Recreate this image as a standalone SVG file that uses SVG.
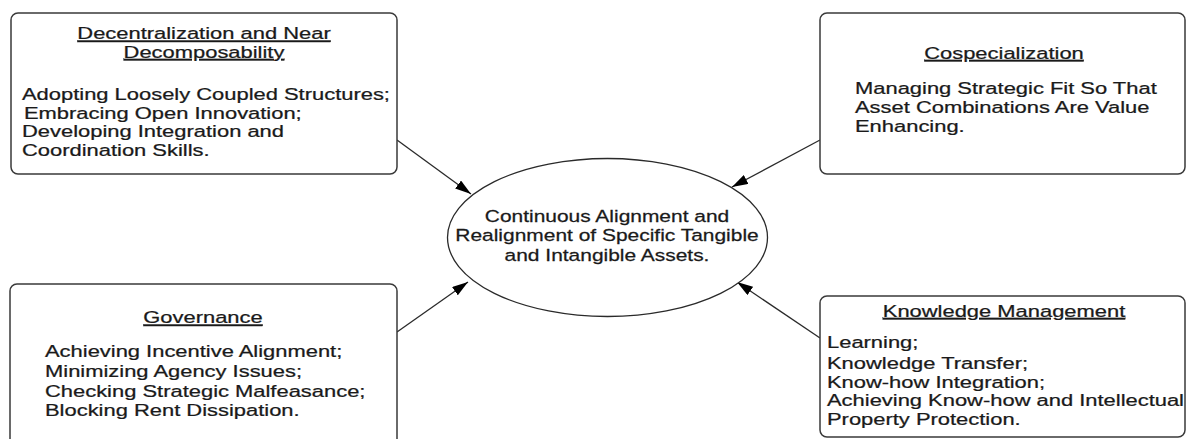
<svg xmlns="http://www.w3.org/2000/svg" width="1187" height="439" viewBox="0 0 1187 439">
  <style>
    .box { fill: #ffffff; stroke: #3a3a3a; stroke-width: 1.5; }
    .ell { fill: #ffffff; stroke: #2a2a2a; stroke-width: 1.3; }
    .t { font-family: "Liberation Sans", Arial, Helvetica, sans-serif; font-size: 17px; fill: #1a1a1a; stroke: #1a1a1a; stroke-width: 0.25; }
    .e { font-size: 16.5px; }
    .title { text-anchor: middle; text-decoration: underline; }
    .mid { text-anchor: middle; }
    .conn { stroke: #2a2a2a; stroke-width: 1.3; fill: none; marker-end: url(#arrow); }
  </style>
  <defs>
    <marker id="arrow" viewBox="0 0 16 10" refX="16" refY="5" markerWidth="16" markerHeight="10" markerUnits="userSpaceOnUse" orient="auto">
      <path d="M0,0 L16,5 L0,10 z" fill="#000000"/>
    </marker>
  </defs>
  <rect width="1187" height="439" fill="#ffffff"/>

  <g id="connectors">
    <line class="conn" x1="397" y1="140" x2="471" y2="194"/>
    <line class="conn" x1="820" y1="140" x2="732" y2="187"/>
    <line class="conn" x1="397" y1="332" x2="468" y2="282"/>
    <line class="conn" x1="820" y1="338" x2="737" y2="282"/>
  </g>

  <g id="center">
    <ellipse class="ell" cx="607.5" cy="237.5" rx="160" ry="79"/>
    <g transform="translate(607,0) scale(1.27,1)">
      <text class="t e mid" x="0" y="222">Continuous Alignment and</text>
      <text class="t e mid" x="0" y="241.5">Realignment of Specific Tangible</text>
      <text class="t e mid" x="0" y="261">and Intangible Assets.</text>
    </g>
  </g>

  <g id="decentralization">
    <rect class="box" x="11" y="13" width="386" height="161" rx="7" ry="7"/>
    <g transform="translate(204,0) scale(1.29,1)">
      <text class="t title" x="0" y="39.5">Decentralization and Near</text>
      <text class="t title" x="0" y="58">Decomposability</text>
    </g>
    <g transform="translate(22,0) scale(1.29,1)">
      <text class="t" x="0" y="100.5">Adopting Loosely Coupled Structures;</text>
      <text class="t" x="1.5" y="119">Embracing Open Innovation;</text>
      <text class="t" x="0" y="137.5">Developing Integration and</text>
      <text class="t" x="0" y="156">Coordination Skills.</text>
    </g>
  </g>

  <g id="cospecialization">
    <rect class="box" x="820" y="13" width="365" height="161" rx="7" ry="7"/>
    <g transform="translate(1004,0) scale(1.29,1)">
      <text class="t title" x="0" y="59">Cospecialization</text>
    </g>
    <g transform="translate(855,0) scale(1.29,1)">
      <text class="t" x="0" y="94">Managing Strategic Fit So That</text>
      <text class="t" x="0" y="113">Asset Combinations Are Value</text>
      <text class="t" x="0" y="132">Enhancing.</text>
    </g>
  </g>

  <g id="governance">
    <rect class="box" x="10" y="284" width="387" height="175" rx="7" ry="7"/>
    <g transform="translate(203,0) scale(1.29,1)">
      <text class="t title" x="0" y="323.5">Governance</text>
    </g>
    <g transform="translate(45,0) scale(1.29,1)">
      <text class="t" x="0" y="357.5">Achieving Incentive Alignment;</text>
      <text class="t" x="0" y="377.5">Minimizing Agency Issues;</text>
      <text class="t" x="0" y="397">Checking Strategic Malfeasance;</text>
      <text class="t" x="0" y="416.5">Blocking Rent Dissipation.</text>
    </g>
  </g>

  <g id="knowledge">
    <rect class="box" x="820" y="296" width="365" height="141" rx="7" ry="7"/>
    <g transform="translate(1004,0) scale(1.29,1)">
      <text class="t title" x="0" y="317">Knowledge Management</text>
    </g>
    <g transform="translate(827,0) scale(1.29,1)">
      <text class="t" x="0" y="348.5">Learning;</text>
      <text class="t" x="0" y="369.5">Knowledge Transfer;</text>
      <text class="t" x="0" y="388">Know-how Integration;</text>
      <text class="t" x="0" y="406.5">Achieving Know-how and Intellectual</text>
      <text class="t" x="0" y="425.5">Property Protection.</text>
    </g>
  </g>
</svg>
